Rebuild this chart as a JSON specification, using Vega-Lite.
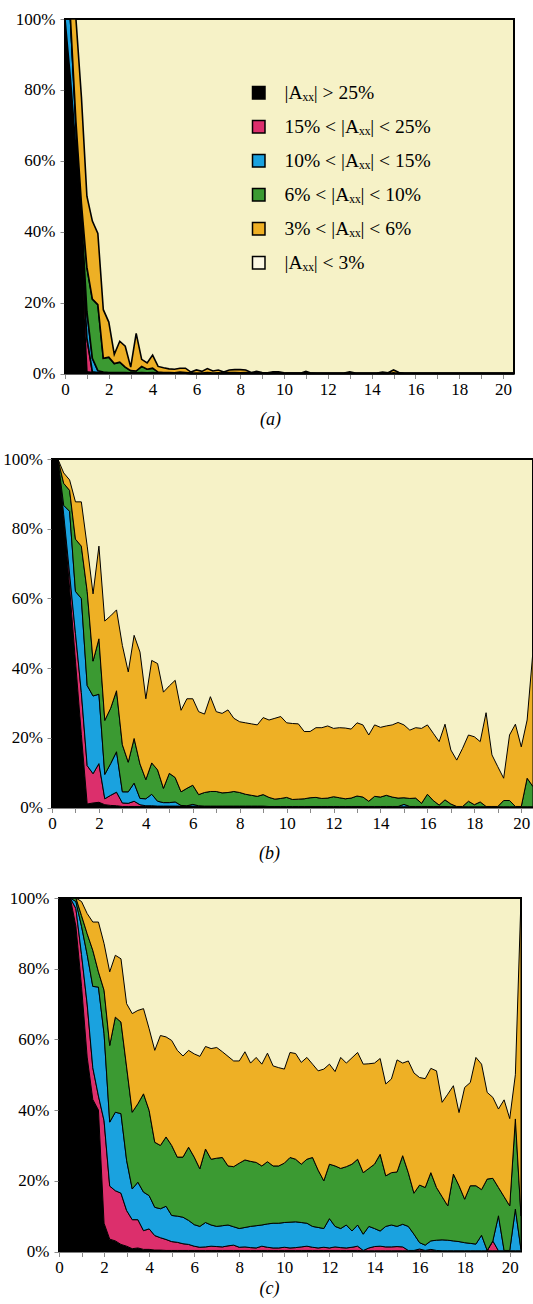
{
"$schema":"https://vega.github.io/schema/vega-lite/v6.json",
"padding":0,
"autosize":{"type":"pad"},
"background":"white",
"config":{
"view":{"stroke":"black","strokeWidth":2,"fill":"#f6f2c7"},
"axis":{"domain":false,"grid":false,"tickSize":5,"tickColor":"#8a8a8a","labelFont":"Liberation Serif","labelFontSize":17,"labelColor":"black","titleFont":"Liberation Serif","titleColor":"black","titleFontWeight":"normal"}
},
"datasets":{
"a":[
{"x":0,"p25":100,"p15":100,"p10":100,"p6":100,"p3":100},
{"x":0.25,"p25":83,"p15":83,"p10":100,"p6":100,"p3":100},
{"x":0.5,"p25":57,"p15":63,"p10":70,"p6":71,"p3":100},
{"x":0.75,"p25":30,"p15":38,"p10":45,"p6":48,"p3":78},
{"x":1,"p25":0.5,"p15":10,"p10":17.5,"p6":30,"p3":50},
{"x":1.25,"p25":0.3,"p15":0.5,"p10":4.3,"p6":21,"p3":43},
{"x":1.5,"p25":0.2,"p15":0.3,"p10":0.8,"p6":19.4,"p3":39.5},
{"x":1.75,"p25":0.2,"p15":0.2,"p10":0.4,"p6":4.3,"p3":18},
{"x":2,"p25":0.2,"p15":0.2,"p10":0.3,"p6":4.6,"p3":14.5},
{"x":2.25,"p25":0.2,"p15":0.2,"p10":0.3,"p6":2.8,"p3":5.4},
{"x":2.5,"p25":0.2,"p15":0.2,"p10":0.3,"p6":3.2,"p3":9.1},
{"x":2.75,"p25":0.2,"p15":0.2,"p10":0.3,"p6":1.8,"p3":7.7},
{"x":3,"p25":0.2,"p15":0.2,"p10":0.2,"p6":0.8,"p3":1.8},
{"x":3.25,"p25":0.2,"p15":0.2,"p10":0.2,"p6":0.7,"p3":11.3},
{"x":3.5,"p25":0.2,"p15":0.2,"p10":0.3,"p6":2,"p3":4},
{"x":3.75,"p25":0.2,"p15":0.2,"p10":0.2,"p6":1.2,"p3":3},
{"x":4,"p25":0.2,"p15":0.2,"p10":0.3,"p6":1.5,"p3":5.2},
{"x":4.25,"p25":0.1,"p15":0.1,"p10":0.2,"p6":0.4,"p3":2},
{"x":4.5,"p25":0.1,"p15":0.1,"p10":0.1,"p6":0.3,"p3":1.6},
{"x":4.75,"p25":0.1,"p15":0.1,"p10":0.1,"p6":0.3,"p3":1.3},
{"x":5,"p25":0.1,"p15":0.1,"p10":0.1,"p6":0.2,"p3":1.2},
{"x":5.25,"p25":0.1,"p15":0.1,"p10":0.1,"p6":0.4,"p3":1.5},
{"x":5.5,"p25":0.1,"p15":0.1,"p10":0.1,"p6":0.3,"p3":1.5},
{"x":5.75,"p25":0,"p15":0,"p10":0,"p6":0.1,"p3":0.4},
{"x":6,"p25":0,"p15":0,"p10":0,"p6":0.1,"p3":1},
{"x":6.25,"p25":0,"p15":0,"p10":0,"p6":0.1,"p3":0.6},
{"x":6.5,"p25":0,"p15":0,"p10":0,"p6":0.3,"p3":1.4},
{"x":6.75,"p25":0,"p15":0,"p10":0,"p6":0.1,"p3":0.7},
{"x":7,"p25":0,"p15":0,"p10":0,"p6":0.2,"p3":1},
{"x":7.25,"p25":0,"p15":0,"p10":0,"p6":0.1,"p3":0.4},
{"x":7.5,"p25":0,"p15":0,"p10":0,"p6":0.3,"p3":1},
{"x":7.75,"p25":0,"p15":0,"p10":0,"p6":0.3,"p3":1.1},
{"x":8,"p25":0,"p15":0,"p10":0,"p6":0.2,"p3":1.1},
{"x":8.25,"p25":0,"p15":0,"p10":0,"p6":0.3,"p3":1},
{"x":8.5,"p25":0,"p15":0,"p10":0,"p6":0.1,"p3":0.3},
{"x":8.75,"p25":0,"p15":0,"p10":0,"p6":0.1,"p3":0.6},
{"x":9,"p25":0,"p15":0,"p10":0,"p6":0.1,"p3":0.3},
{"x":9.25,"p25":0,"p15":0,"p10":0,"p6":0,"p3":0.2},
{"x":9.5,"p25":0,"p15":0,"p10":0,"p6":0.1,"p3":0.5},
{"x":9.75,"p25":0,"p15":0,"p10":0,"p6":0.1,"p3":0.5},
{"x":10,"p25":0,"p15":0,"p10":0,"p6":0,"p3":0.2},
{"x":10.25,"p25":0,"p15":0,"p10":0,"p6":0,"p3":0.1},
{"x":10.5,"p25":0,"p15":0,"p10":0,"p6":0,"p3":0.1},
{"x":10.75,"p25":0,"p15":0,"p10":0,"p6":0,"p3":0.1},
{"x":11,"p25":0,"p15":0,"p10":0,"p6":0.1,"p3":0.6},
{"x":11.25,"p25":0,"p15":0,"p10":0,"p6":0,"p3":0.1},
{"x":11.5,"p25":0,"p15":0,"p10":0,"p6":0,"p3":0.05},
{"x":11.75,"p25":0,"p15":0,"p10":0,"p6":0,"p3":0.05},
{"x":12,"p25":0,"p15":0,"p10":0,"p6":0,"p3":0.05},
{"x":12.25,"p25":0,"p15":0,"p10":0,"p6":0,"p3":0.05},
{"x":12.5,"p25":0,"p15":0,"p10":0,"p6":0,"p3":0.05},
{"x":12.75,"p25":0,"p15":0,"p10":0,"p6":0,"p3":0.1},
{"x":13,"p25":0,"p15":0,"p10":0,"p6":0.1,"p3":0.5},
{"x":13.25,"p25":0,"p15":0,"p10":0,"p6":0,"p3":0.1},
{"x":13.5,"p25":0,"p15":0,"p10":0,"p6":0,"p3":0.05},
{"x":13.75,"p25":0,"p15":0,"p10":0,"p6":0,"p3":0.05},
{"x":14,"p25":0,"p15":0,"p10":0,"p6":0,"p3":0.05},
{"x":14.25,"p25":0,"p15":0,"p10":0,"p6":0,"p3":0.1},
{"x":14.5,"p25":0,"p15":0,"p10":0,"p6":0.1,"p3":0.4},
{"x":14.75,"p25":0,"p15":0,"p10":0,"p6":0,"p3":0.2},
{"x":15,"p25":0,"p15":0,"p10":0,"p6":0.2,"p3":1},
{"x":15.25,"p25":0,"p15":0,"p10":0,"p6":0,"p3":0.3},
{"x":15.5,"p25":0,"p15":0,"p10":0,"p6":0,"p3":0.05},
{"x":15.75,"p25":0,"p15":0,"p10":0,"p6":0,"p3":0.05},
{"x":16,"p25":0,"p15":0,"p10":0,"p6":0,"p3":0.05},
{"x":16.25,"p25":0,"p15":0,"p10":0,"p6":0,"p3":0.05},
{"x":16.5,"p25":0,"p15":0,"p10":0,"p6":0,"p3":0.05},
{"x":16.75,"p25":0,"p15":0,"p10":0,"p6":0,"p3":0.05},
{"x":17,"p25":0,"p15":0,"p10":0,"p6":0,"p3":0.05},
{"x":17.25,"p25":0,"p15":0,"p10":0,"p6":0,"p3":0.05},
{"x":17.5,"p25":0,"p15":0,"p10":0,"p6":0,"p3":0.05},
{"x":17.75,"p25":0,"p15":0,"p10":0,"p6":0,"p3":0.05},
{"x":18,"p25":0,"p15":0,"p10":0,"p6":0,"p3":0.05},
{"x":18.25,"p25":0,"p15":0,"p10":0,"p6":0,"p3":0.05},
{"x":18.5,"p25":0,"p15":0,"p10":0,"p6":0,"p3":0.05},
{"x":18.75,"p25":0,"p15":0,"p10":0,"p6":0,"p3":0.05},
{"x":19,"p25":0,"p15":0,"p10":0,"p6":0,"p3":0.05},
{"x":19.25,"p25":0,"p15":0,"p10":0,"p6":0,"p3":0.05},
{"x":19.5,"p25":0,"p15":0,"p10":0,"p6":0,"p3":0.05},
{"x":19.75,"p25":0,"p15":0,"p10":0,"p6":0,"p3":0.05},
{"x":20,"p25":0,"p15":0,"p10":0,"p6":0,"p3":0.05},
{"x":20.25,"p25":0,"p15":0,"p10":0,"p6":0,"p3":0.05},
{"x":20.5,"p25":0,"p15":0,"p10":0,"p6":0,"p3":0.05}
],
"b":[
{"x":0,"p25":100,"p15":100,"p10":100,"p6":100,"p3":100},
{"x":0.25,"p25":100,"p15":100,"p10":100,"p6":100,"p3":100},
{"x":0.5,"p25":83,"p15":84,"p10":86.7,"p6":93,"p3":96},
{"x":0.75,"p25":63,"p15":67,"p10":85,"p6":91,"p3":94},
{"x":1,"p25":42,"p15":50,"p10":62,"p6":77,"p3":87.7},
{"x":1.25,"p25":21,"p15":33,"p10":60,"p6":75,"p3":87.7},
{"x":1.5,"p25":1,"p15":12,"p10":35,"p6":62,"p3":75},
{"x":1.75,"p25":1.3,"p15":9.7,"p10":32,"p6":42,"p3":61.3},
{"x":2,"p25":1.5,"p15":12.6,"p10":32.5,"p6":48.4,"p3":75},
{"x":2.25,"p25":0.8,"p15":2.5,"p10":9.5,"p6":25,"p3":53.5},
{"x":2.5,"p25":0.6,"p15":3.5,"p10":12.6,"p6":28.5,"p3":55},
{"x":2.75,"p25":0.5,"p15":4.4,"p10":16,"p6":33.5,"p3":56.7},
{"x":3,"p25":0.3,"p15":1.3,"p10":4.5,"p6":18,"p3":46.5},
{"x":3.25,"p25":0.3,"p15":1.2,"p10":4.5,"p6":13,"p3":38.9},
{"x":3.5,"p25":0.3,"p15":1.8,"p10":7,"p6":19.8,"p3":49.4},
{"x":3.75,"p25":0.3,"p15":0.8,"p10":2.6,"p6":12.5,"p3":44.6},
{"x":4,"p25":0.3,"p15":0.5,"p10":2.5,"p6":8,"p3":31.2},
{"x":4.25,"p25":0.3,"p15":0.5,"p10":3.8,"p6":12.8,"p3":42.2},
{"x":4.5,"p25":0.3,"p15":0.4,"p10":1.8,"p6":10.8,"p3":41.3},
{"x":4.75,"p25":0.3,"p15":0.4,"p10":1.4,"p6":5.5,"p3":33.1},
{"x":5,"p25":0.3,"p15":0.4,"p10":1.4,"p6":9.8,"p3":34.9},
{"x":5.25,"p25":0.3,"p15":0.4,"p10":1.6,"p6":8.6,"p3":36.5},
{"x":5.5,"p25":0.3,"p15":0.4,"p10":0.6,"p6":4.5,"p3":27.9},
{"x":5.75,"p25":0.3,"p15":0.4,"p10":0.5,"p6":5.5,"p3":31.2},
{"x":6,"p25":0.3,"p15":0.4,"p10":0.9,"p6":6.4,"p3":31.2},
{"x":6.25,"p25":0.3,"p15":0.3,"p10":0.5,"p6":3.7,"p3":27.5},
{"x":6.5,"p25":0.2,"p15":0.3,"p10":0.4,"p6":4.3,"p3":26.8},
{"x":6.75,"p25":0.2,"p15":0.3,"p10":0.4,"p6":4.6,"p3":31.8},
{"x":7,"p25":0.2,"p15":0.3,"p10":0.4,"p6":4.6,"p3":27.5},
{"x":7.25,"p25":0.2,"p15":0.3,"p10":0.4,"p6":4.2,"p3":27},
{"x":7.5,"p25":0.2,"p15":0.3,"p10":0.4,"p6":4.3,"p3":28},
{"x":7.75,"p25":0.2,"p15":0.3,"p10":0.4,"p6":4.6,"p3":25.6},
{"x":8,"p25":0.2,"p15":0.3,"p10":0.4,"p6":4.3,"p3":24.6},
{"x":8.25,"p25":0.2,"p15":0.3,"p10":0.4,"p6":3.8,"p3":24.3},
{"x":8.5,"p25":0.2,"p15":0.3,"p10":0.4,"p6":3.5,"p3":24},
{"x":8.75,"p25":0.2,"p15":0.3,"p10":0.4,"p6":3.2,"p3":23.7},
{"x":9,"p25":0.2,"p15":0.3,"p10":0.4,"p6":3.7,"p3":25.8},
{"x":9.25,"p25":0.2,"p15":0.3,"p10":0.3,"p6":2.9,"p3":25.1},
{"x":9.5,"p25":0.2,"p15":0.3,"p10":0.3,"p6":2.4,"p3":25.6},
{"x":9.75,"p25":0.2,"p15":0.3,"p10":0.3,"p6":2.6,"p3":26.1},
{"x":10,"p25":0.2,"p15":0.2,"p10":0.3,"p6":2.9,"p3":24.3},
{"x":10.25,"p25":0.2,"p15":0.2,"p10":0.3,"p6":2.3,"p3":24.1},
{"x":10.5,"p25":0.2,"p15":0.2,"p10":0.3,"p6":2.4,"p3":24},
{"x":10.75,"p25":0.2,"p15":0.2,"p10":0.3,"p6":2.5,"p3":21.8},
{"x":11,"p25":0.2,"p15":0.2,"p10":0.3,"p6":2.8,"p3":21.8},
{"x":11.25,"p25":0.2,"p15":0.2,"p10":0.3,"p6":2.9,"p3":22.9},
{"x":11.5,"p25":0.2,"p15":0.2,"p10":0.3,"p6":2.6,"p3":22.9},
{"x":11.75,"p25":0.2,"p15":0.2,"p10":0.3,"p6":2.7,"p3":23.4},
{"x":12,"p25":0.2,"p15":0.2,"p10":0.3,"p6":3.1,"p3":22.7},
{"x":12.25,"p25":0.2,"p15":0.2,"p10":0.3,"p6":2.8,"p3":22.9},
{"x":12.5,"p25":0.2,"p15":0.2,"p10":0.3,"p6":2.5,"p3":22.8},
{"x":12.75,"p25":0.2,"p15":0.2,"p10":0.3,"p6":2.7,"p3":22.5},
{"x":13,"p25":0.2,"p15":0.2,"p10":0.3,"p6":3.3,"p3":24.3},
{"x":13.25,"p25":0.2,"p15":0.2,"p10":0.3,"p6":3,"p3":23.7},
{"x":13.5,"p25":0.2,"p15":0.2,"p10":0.3,"p6":1.8,"p3":20.8},
{"x":13.75,"p25":0.2,"p15":0.2,"p10":0.3,"p6":3.2,"p3":23.7},
{"x":14,"p25":0.2,"p15":0.2,"p10":0.3,"p6":3,"p3":23},
{"x":14.25,"p25":0.2,"p15":0.2,"p10":0.3,"p6":3.5,"p3":23.4},
{"x":14.5,"p25":0.2,"p15":0.2,"p10":0.3,"p6":3,"p3":23.7},
{"x":14.75,"p25":0.2,"p15":0.2,"p10":0.3,"p6":2.7,"p3":24.4},
{"x":15,"p25":0.2,"p15":0.2,"p10":0.9,"p6":2.8,"p3":23.7},
{"x":15.25,"p25":0.2,"p15":0.2,"p10":0.3,"p6":2.6,"p3":22.2},
{"x":15.5,"p25":0.2,"p15":0.2,"p10":0.3,"p6":2.7,"p3":22.9},
{"x":15.75,"p25":0.2,"p15":0.2,"p10":0.3,"p6":1.2,"p3":22.7},
{"x":16,"p25":0.2,"p15":0.2,"p10":0.3,"p6":3.8,"p3":23.7},
{"x":16.25,"p25":0.2,"p15":0.2,"p10":0.3,"p6":2,"p3":21.3},
{"x":16.5,"p25":0.2,"p15":0.2,"p10":0.3,"p6":0.7,"p3":18.9},
{"x":16.75,"p25":0.2,"p15":0.2,"p10":0.3,"p6":2.2,"p3":23.9},
{"x":17,"p25":0.2,"p15":0.2,"p10":0.2,"p6":1,"p3":16.5},
{"x":17.25,"p25":0.2,"p15":0.2,"p10":0.2,"p6":0.3,"p3":13.6},
{"x":17.5,"p25":0.2,"p15":0.2,"p10":0.2,"p6":0.3,"p3":17},
{"x":17.75,"p25":0.2,"p15":0.2,"p10":0.2,"p6":1.8,"p3":20.8},
{"x":18,"p25":0.2,"p15":0.2,"p10":0.2,"p6":0.8,"p3":20.3},
{"x":18.25,"p25":0.2,"p15":0.2,"p10":0.2,"p6":1.6,"p3":18.9},
{"x":18.5,"p25":0.2,"p15":0.2,"p10":0.2,"p6":0.3,"p3":27.2},
{"x":18.75,"p25":0.2,"p15":0.2,"p10":0.2,"p6":0.3,"p3":15.1},
{"x":19,"p25":0.2,"p15":0.2,"p10":0.2,"p6":0.3,"p3":11.7},
{"x":19.25,"p25":0.2,"p15":0.2,"p10":0.2,"p6":2,"p3":8.4},
{"x":19.5,"p25":0.2,"p15":0.2,"p10":0.2,"p6":2,"p3":20.8},
{"x":19.75,"p25":0.2,"p15":0.2,"p10":0.2,"p6":0.3,"p3":23.9},
{"x":20,"p25":0.2,"p15":0.2,"p10":0.2,"p6":0.3,"p3":17.4},
{"x":20.25,"p25":0.2,"p15":0.2,"p10":0.2,"p6":8.4,"p3":25.1},
{"x":20.5,"p25":0.2,"p15":0.2,"p10":0.2,"p6":6,"p3":45}
],
"c":[
{"x":0,"p25":100,"p15":100,"p10":100,"p6":100,"p3":100},
{"x":0.25,"p25":100,"p15":100,"p10":100,"p6":100,"p3":100},
{"x":0.5,"p25":100,"p15":100,"p10":100,"p6":100,"p3":100},
{"x":0.75,"p25":92,"p15":97,"p10":99,"p6":100,"p3":100},
{"x":1,"p25":75,"p15":84,"p10":92,"p6":95,"p3":99},
{"x":1.25,"p25":55,"p15":70,"p10":84,"p6":89.9,"p3":95.6},
{"x":1.5,"p25":43,"p15":52,"p10":75,"p6":85.2,"p3":93.2},
{"x":1.75,"p25":40,"p15":44,"p10":74.8,"p6":79.1,"p3":93.2},
{"x":2,"p25":8,"p15":37,"p10":61.6,"p6":73.9,"p3":87.1},
{"x":2.25,"p25":3.5,"p15":18.5,"p10":36.6,"p6":58.3,"p3":79.1},
{"x":2.5,"p25":3,"p15":17.2,"p10":39.4,"p6":66.3,"p3":83.8},
{"x":2.75,"p25":2,"p15":16.5,"p10":39,"p6":64.9,"p3":82.8},
{"x":3,"p25":1.5,"p15":11.6,"p10":25.8,"p6":52.2,"p3":70.1},
{"x":3.25,"p25":0.8,"p15":9,"p10":17.7,"p6":39.4,"p3":67.3},
{"x":3.5,"p25":1,"p15":9,"p10":19.6,"p6":41.8,"p3":68.2},
{"x":3.75,"p25":0.6,"p15":5.9,"p10":16.8,"p6":44.6,"p3":68.7},
{"x":4,"p25":0.6,"p15":6.4,"p10":15.8,"p6":39.9,"p3":63},
{"x":4.25,"p25":0.4,"p15":4.5,"p10":12.5,"p6":30.9,"p3":56.9},
{"x":4.5,"p25":0.4,"p15":3.9,"p10":12.1,"p6":30,"p3":61.1},
{"x":4.75,"p25":0.3,"p15":3.4,"p10":12.8,"p6":32.4,"p3":60.7},
{"x":5,"p25":0.3,"p15":2.8,"p10":10.2,"p6":30,"p3":59.7},
{"x":5.25,"p25":0.3,"p15":2.6,"p10":10,"p6":26.7,"p3":56.9},
{"x":5.5,"p25":0.3,"p15":2.2,"p10":9.7,"p6":26.7,"p3":55.3},
{"x":5.75,"p25":0.3,"p15":2,"p10":8.8,"p6":29.5,"p3":56.9},
{"x":6,"p25":0.3,"p15":1.5,"p10":7.6,"p6":26.7,"p3":55.9},
{"x":6.25,"p25":0.3,"p15":1.2,"p10":7.1,"p6":23.4,"p3":55.2},
{"x":6.5,"p25":0.3,"p15":1.3,"p10":8.2,"p6":29,"p3":58},
{"x":6.75,"p25":0.3,"p15":1.5,"p10":7.5,"p6":26.1,"p3":57.4},
{"x":7,"p25":0.3,"p15":1.4,"p10":7.1,"p6":26.4,"p3":57.7},
{"x":7.25,"p25":0.3,"p15":1.3,"p10":7.3,"p6":26.6,"p3":56.5},
{"x":7.5,"p25":0.3,"p15":1.6,"p10":7.5,"p6":24.2,"p3":55.2},
{"x":7.75,"p25":0.3,"p15":1.8,"p10":7,"p6":24,"p3":53.9},
{"x":8,"p25":0.3,"p15":1.2,"p10":6.5,"p6":25,"p3":53.9},
{"x":8.25,"p25":0.3,"p15":1.3,"p10":6.8,"p6":25.9,"p3":56.5},
{"x":8.5,"p25":0.3,"p15":1.1,"p10":7.1,"p6":25.5,"p3":53.3},
{"x":8.75,"p25":0.3,"p15":1,"p10":7.3,"p6":25.2,"p3":54.9},
{"x":9,"p25":0.3,"p15":1.5,"p10":7.5,"p6":24.2,"p3":53},
{"x":9.25,"p25":0.3,"p15":1.2,"p10":7.8,"p6":25.4,"p3":56.1},
{"x":9.5,"p25":0.3,"p15":1,"p10":8,"p6":24.2,"p3":52.5},
{"x":9.75,"p25":0.3,"p15":1,"p10":8,"p6":24.2,"p3":52},
{"x":10,"p25":0.3,"p15":1.2,"p10":8.2,"p6":25,"p3":51.6},
{"x":10.25,"p25":0.3,"p15":1,"p10":8.3,"p6":26.6,"p3":56.3},
{"x":10.5,"p25":0.3,"p15":1.1,"p10":8.4,"p6":26.1,"p3":56},
{"x":10.75,"p25":0.3,"p15":1.3,"p10":8.2,"p6":24.7,"p3":53.5},
{"x":11,"p25":0.3,"p15":1.5,"p10":8,"p6":26.1,"p3":54.9},
{"x":11.25,"p25":0.3,"p15":1.2,"p10":7.1,"p6":26.6,"p3":53},
{"x":11.5,"p25":0.3,"p15":1,"p10":6.8,"p6":23,"p3":51.1},
{"x":11.75,"p25":0.3,"p15":1.2,"p10":6.5,"p6":20,"p3":51.6},
{"x":12,"p25":0.3,"p15":1,"p10":9.3,"p6":24.7,"p3":53},
{"x":12.25,"p25":0.3,"p15":1.3,"p10":7.1,"p6":24.2,"p3":50.9},
{"x":12.5,"p25":0.3,"p15":1.1,"p10":6.5,"p6":23.5,"p3":54.9},
{"x":12.75,"p25":0.3,"p15":1,"p10":7.5,"p6":24,"p3":53.3},
{"x":13,"p25":0.3,"p15":1.2,"p10":5.8,"p6":24.7,"p3":54.8},
{"x":13.25,"p25":0.3,"p15":1.5,"p10":7.5,"p6":26.1,"p3":56.3},
{"x":13.5,"p25":0.2,"p15":0.3,"p10":4.9,"p6":22.3,"p3":53},
{"x":13.75,"p25":0.2,"p15":1,"p10":7.1,"p6":23.5,"p3":53.1},
{"x":14,"p25":0.2,"p15":1.4,"p10":6.5,"p6":24.7,"p3":53.3},
{"x":14.25,"p25":0.2,"p15":1.5,"p10":5.8,"p6":27.5,"p3":54.6},
{"x":14.5,"p25":0.2,"p15":1.3,"p10":7.1,"p6":21.4,"p3":47.4},
{"x":14.75,"p25":0.2,"p15":1.3,"p10":7.5,"p6":22.3,"p3":48.8},
{"x":15,"p25":0.2,"p15":1.4,"p10":7.1,"p6":22.5,"p3":54.2},
{"x":15.25,"p25":0.2,"p15":1.3,"p10":7.7,"p6":27.1,"p3":53.3},
{"x":15.5,"p25":0.2,"p15":0.3,"p10":7.1,"p6":22.3,"p3":53.9},
{"x":15.75,"p25":0.2,"p15":0.3,"p10":4.9,"p6":16.5,"p3":50.5},
{"x":16,"p25":0.2,"p15":0.7,"p10":2.5,"p6":18.8,"p3":49.2},
{"x":16.25,"p25":0.2,"p15":0.3,"p10":1.8,"p6":18.1,"p3":48.9},
{"x":16.5,"p25":0.2,"p15":0.6,"p10":3,"p6":22.3,"p3":51.8},
{"x":16.75,"p25":0.2,"p15":0.3,"p10":3.2,"p6":18.1,"p3":51.1},
{"x":17,"p25":0.2,"p15":0.2,"p10":3.3,"p6":15.5,"p3":42.2},
{"x":17.25,"p25":0.2,"p15":0.2,"p10":3.2,"p6":12.9,"p3":44.5},
{"x":17.5,"p25":0.2,"p15":0.2,"p10":3,"p6":21.9,"p3":46.9},
{"x":17.75,"p25":0.2,"p15":0.2,"p10":2.8,"p6":18.6,"p3":39.3},
{"x":18,"p25":0.2,"p15":0.2,"p10":2.5,"p6":14.8,"p3":46.4},
{"x":18.25,"p25":0.2,"p15":0.2,"p10":2.3,"p6":18.6,"p3":47.8},
{"x":18.5,"p25":0.2,"p15":0.2,"p10":2.1,"p6":18.6,"p3":54.9},
{"x":18.75,"p25":0.2,"p15":0.2,"p10":4.6,"p6":17.5,"p3":53},
{"x":19,"p25":0.2,"p15":0.2,"p10":0.3,"p6":20.5,"p3":45},
{"x":19.25,"p25":0.2,"p15":3,"p10":3,"p6":20.7,"p3":43.6},
{"x":19.5,"p25":0.2,"p15":0.2,"p10":10.1,"p6":18.1,"p3":40.3},
{"x":19.75,"p25":0.2,"p15":0.2,"p10":0.3,"p6":15.5,"p3":42.9},
{"x":20,"p25":0.2,"p15":0.2,"p10":0.3,"p6":12.9,"p3":37.6},
{"x":20.25,"p25":0.2,"p15":0.2,"p10":12,"p6":37.5,"p3":50},
{"x":20.5,"p25":0.2,"p15":0.2,"p10":0.5,"p6":10,"p3":100}
],
"blank":[{}]
},
"spacing":0,
"resolve":{"scale":{"color":"independent"},"legend":{"color":"independent"}},
"vconcat":[
{"spacing":0,"resolve":{"scale":{"color":"independent"},"legend":{"color":"independent"}},
"hconcat":[
{"width":13,"height":1,"view":{"stroke":null,"fill":null},"data":{"name":"blank"},"mark":{"type":"point","size":0,"opacity":0},"encoding":{}},
{
"width":449,"height":354.5,
"data":{"name":"a"},
"encoding":{"x":{"field":"x","type":"quantitative","scale":{"domain":[0,20.5],"nice":false,"zero":false},
"axis":{"values":[0,1,2,3,4,5,6,7,8,9,10,11,12,13,14,15,16,17,18,19,20],"labelExpr":"datum.value % 2 === 0 ? datum.label : ''","labelOverlap":false,"labelFlush":false,"labelPadding":3,"labelFont":"Liberation Serif","labelFontSize":17,"title":"(a)","titleFont":"Liberation Serif","titleFontSize":18,"titleFontStyle":"italic","titleX":205,"titleY":46,"titleAlign":"center","titleBaseline":"middle","titleAngle":0}}},
"layer":[
{"mark":{"type":"area","stroke":"black","strokeWidth":1.6,"opacity":1},"encoding":{"y":{"field":"p25","type":"quantitative","stack":null,"scale":{"domain":[0,100],"nice":false},"axis":{"values":[0,20,40,60,80,100],"labelExpr":"datum.value + '%'","labelPadding":5,"labelFont":"Liberation Serif","labelFontSize":17,"title":" ","titleFontSize":1,"titleX":-51,"titleY":-17.3,"titleAngle":0,"titleAlign":"left","titleBaseline":"top","titleColor":"#ffffff"}},"y2":{"datum":0},
"color":{"datum":"|Aₓₓ| > 25%","type":"nominal","scale":{"domain":["|Aₓₓ| > 25%","15% < |Aₓₓ| < 25%","10% < |Aₓₓ| < 15%","6% < |Aₓₓ| < 10%","3% < |Aₓₓ| < 6%","|Aₓₓ| < 3%"],"range":["#000000","#dc2f6c","#1aa2df","#3b9a32","#eeb025","#fbf8e4"]},
"legend":{"orient":"none","legendX":184,"legendY":64,"title":null,"symbolType":"square","symbolSize":156,"symbolStrokeColor":"black","symbolStrokeWidth":1.5,"symbolOpacity":1,"labelFont":"Liberation Serif","labelFontSize":19.5,"labelColor":"black","labelOffset":16,"rowPadding":13,"padding":0,"labelLimit":400}}}},
{"mark":{"type":"area","stroke":"black","strokeWidth":1.6,"opacity":1},"encoding":{"y":{"field":"p15","type":"quantitative","stack":null,"axis":{"values":[0,20,40,60,80,100],"labelExpr":"datum.value + '%'","labelPadding":5,"labelFont":"Liberation Serif","labelFontSize":17,"title":" ","titleFontSize":1,"titleX":-51,"titleY":-17.3,"titleAngle":0,"titleAlign":"left","titleBaseline":"top","titleColor":"#ffffff"}},"y2":{"field":"p25"},
"color":{"datum":"15% < |Aₓₓ| < 25%","type":"nominal","scale":{"domain":["|Aₓₓ| > 25%","15% < |Aₓₓ| < 25%","10% < |Aₓₓ| < 15%","6% < |Aₓₓ| < 10%","3% < |Aₓₓ| < 6%","|Aₓₓ| < 3%"],"range":["#000000","#dc2f6c","#1aa2df","#3b9a32","#eeb025","#fbf8e4"]}}}},
{"mark":{"type":"area","stroke":"black","strokeWidth":1.6,"opacity":1},"encoding":{"y":{"field":"p10","type":"quantitative","stack":null,"axis":{"values":[0,20,40,60,80,100],"labelExpr":"datum.value + '%'","labelPadding":5,"labelFont":"Liberation Serif","labelFontSize":17,"title":" ","titleFontSize":1,"titleX":-51,"titleY":-17.3,"titleAngle":0,"titleAlign":"left","titleBaseline":"top","titleColor":"#ffffff"}},"y2":{"field":"p15"},
"color":{"datum":"10% < |Aₓₓ| < 15%","type":"nominal","scale":{"domain":["|Aₓₓ| > 25%","15% < |Aₓₓ| < 25%","10% < |Aₓₓ| < 15%","6% < |Aₓₓ| < 10%","3% < |Aₓₓ| < 6%","|Aₓₓ| < 3%"],"range":["#000000","#dc2f6c","#1aa2df","#3b9a32","#eeb025","#fbf8e4"]}}}},
{"mark":{"type":"area","stroke":"black","strokeWidth":1.6,"opacity":1},"encoding":{"y":{"field":"p6","type":"quantitative","stack":null,"axis":{"values":[0,20,40,60,80,100],"labelExpr":"datum.value + '%'","labelPadding":5,"labelFont":"Liberation Serif","labelFontSize":17,"title":" ","titleFontSize":1,"titleX":-51,"titleY":-17.3,"titleAngle":0,"titleAlign":"left","titleBaseline":"top","titleColor":"#ffffff"}},"y2":{"field":"p10"},
"color":{"datum":"6% < |Aₓₓ| < 10%","type":"nominal","scale":{"domain":["|Aₓₓ| > 25%","15% < |Aₓₓ| < 25%","10% < |Aₓₓ| < 15%","6% < |Aₓₓ| < 10%","3% < |Aₓₓ| < 6%","|Aₓₓ| < 3%"],"range":["#000000","#dc2f6c","#1aa2df","#3b9a32","#eeb025","#fbf8e4"]}}}},
{"mark":{"type":"area","stroke":"black","strokeWidth":1.6,"opacity":1},"encoding":{"y":{"field":"p3","type":"quantitative","stack":null,"axis":{"values":[0,20,40,60,80,100],"labelExpr":"datum.value + '%'","labelPadding":5,"labelFont":"Liberation Serif","labelFontSize":17,"title":" ","titleFontSize":1,"titleX":-51,"titleY":-17.3,"titleAngle":0,"titleAlign":"left","titleBaseline":"top","titleColor":"#ffffff"}},"y2":{"field":"p6"},
"color":{"datum":"3% < |Aₓₓ| < 6%","type":"nominal","scale":{"domain":["|Aₓₓ| > 25%","15% < |Aₓₓ| < 25%","10% < |Aₓₓ| < 15%","6% < |Aₓₓ| < 10%","3% < |Aₓₓ| < 6%","|Aₓₓ| < 3%"],"range":["#000000","#dc2f6c","#1aa2df","#3b9a32","#eeb025","#fbf8e4"]}}}}
]
}
]},
{"spacing":0,"resolve":{"scale":{"color":"independent"},"legend":{"color":"independent"}},
"hconcat":[
{"width":1,"height":1,"view":{"stroke":null,"fill":null},"data":{"name":"blank"},"mark":{"type":"point","size":0,"opacity":0},"encoding":{}},
{
"width":481,"height":348.5,
"data":{"name":"b"},
"encoding":{"x":{"field":"x","type":"quantitative","scale":{"domain":[0,20.5],"nice":false,"zero":false},
"axis":{"values":[0,1,2,3,4,5,6,7,8,9,10,11,12,13,14,15,16,17,18,19,20],"labelExpr":"datum.value % 2 === 0 ? datum.label : ''","labelOverlap":false,"labelFlush":false,"labelPadding":3,"labelFont":"Liberation Serif","labelFontSize":17,"title":"(b)","titleFont":"Liberation Serif","titleFontSize":18,"titleFontStyle":"italic","titleX":217,"titleY":46,"titleAlign":"center","titleBaseline":"middle","titleAngle":0}}},
"layer":[
{"mark":{"type":"area","stroke":"black","strokeWidth":1,"opacity":1},"encoding":{"y":{"field":"p25","type":"quantitative","stack":null,"scale":{"domain":[0,100],"nice":false},"axis":{"values":[0,20,40,60,80,100],"labelExpr":"datum.value + '%'","labelPadding":4.5,"labelFont":"Liberation Serif","labelFontSize":17,"title":" ","titleFontSize":1,"titleX":-50,"titleY":-27.5,"titleAngle":0,"titleAlign":"left","titleBaseline":"top","titleColor":"#ffffff"}},"y2":{"datum":0},
"color":{"datum":"|Aₓₓ| > 25%","type":"nominal","legend":null,"scale":{"domain":["|Aₓₓ| > 25%","15% < |Aₓₓ| < 25%","10% < |Aₓₓ| < 15%","6% < |Aₓₓ| < 10%","3% < |Aₓₓ| < 6%","|Aₓₓ| < 3%"],"range":["#000000","#dc2f6c","#1aa2df","#3b9a32","#eeb025","#fbf8e4"]}}}},
{"mark":{"type":"area","stroke":"black","strokeWidth":1,"opacity":1},"encoding":{"y":{"field":"p15","type":"quantitative","stack":null,"axis":{"values":[0,20,40,60,80,100],"labelExpr":"datum.value + '%'","labelPadding":4.5,"labelFont":"Liberation Serif","labelFontSize":17,"title":" ","titleFontSize":1,"titleX":-50,"titleY":-27.5,"titleAngle":0,"titleAlign":"left","titleBaseline":"top","titleColor":"#ffffff"}},"y2":{"field":"p25"},
"color":{"datum":"15% < |Aₓₓ| < 25%","type":"nominal","legend":null,"scale":{"domain":["|Aₓₓ| > 25%","15% < |Aₓₓ| < 25%","10% < |Aₓₓ| < 15%","6% < |Aₓₓ| < 10%","3% < |Aₓₓ| < 6%","|Aₓₓ| < 3%"],"range":["#000000","#dc2f6c","#1aa2df","#3b9a32","#eeb025","#fbf8e4"]}}}},
{"mark":{"type":"area","stroke":"black","strokeWidth":1,"opacity":1},"encoding":{"y":{"field":"p10","type":"quantitative","stack":null,"axis":{"values":[0,20,40,60,80,100],"labelExpr":"datum.value + '%'","labelPadding":4.5,"labelFont":"Liberation Serif","labelFontSize":17,"title":" ","titleFontSize":1,"titleX":-50,"titleY":-27.5,"titleAngle":0,"titleAlign":"left","titleBaseline":"top","titleColor":"#ffffff"}},"y2":{"field":"p15"},
"color":{"datum":"10% < |Aₓₓ| < 15%","type":"nominal","legend":null,"scale":{"domain":["|Aₓₓ| > 25%","15% < |Aₓₓ| < 25%","10% < |Aₓₓ| < 15%","6% < |Aₓₓ| < 10%","3% < |Aₓₓ| < 6%","|Aₓₓ| < 3%"],"range":["#000000","#dc2f6c","#1aa2df","#3b9a32","#eeb025","#fbf8e4"]}}}},
{"mark":{"type":"area","stroke":"black","strokeWidth":1,"opacity":1},"encoding":{"y":{"field":"p6","type":"quantitative","stack":null,"axis":{"values":[0,20,40,60,80,100],"labelExpr":"datum.value + '%'","labelPadding":4.5,"labelFont":"Liberation Serif","labelFontSize":17,"title":" ","titleFontSize":1,"titleX":-50,"titleY":-27.5,"titleAngle":0,"titleAlign":"left","titleBaseline":"top","titleColor":"#ffffff"}},"y2":{"field":"p10"},
"color":{"datum":"6% < |Aₓₓ| < 10%","type":"nominal","legend":null,"scale":{"domain":["|Aₓₓ| > 25%","15% < |Aₓₓ| < 25%","10% < |Aₓₓ| < 15%","6% < |Aₓₓ| < 10%","3% < |Aₓₓ| < 6%","|Aₓₓ| < 3%"],"range":["#000000","#dc2f6c","#1aa2df","#3b9a32","#eeb025","#fbf8e4"]}}}},
{"mark":{"type":"area","stroke":"black","strokeWidth":1,"opacity":1},"encoding":{"y":{"field":"p3","type":"quantitative","stack":null,"axis":{"values":[0,20,40,60,80,100],"labelExpr":"datum.value + '%'","labelPadding":4.5,"labelFont":"Liberation Serif","labelFontSize":17,"title":" ","titleFontSize":1,"titleX":-50,"titleY":-27.5,"titleAngle":0,"titleAlign":"left","titleBaseline":"top","titleColor":"#ffffff"}},"y2":{"field":"p6"},
"color":{"datum":"3% < |Aₓₓ| < 6%","type":"nominal","legend":null,"scale":{"domain":["|Aₓₓ| > 25%","15% < |Aₓₓ| < 25%","10% < |Aₓₓ| < 15%","6% < |Aₓₓ| < 10%","3% < |Aₓₓ| < 6%","|Aₓₓ| < 3%"],"range":["#000000","#dc2f6c","#1aa2df","#3b9a32","#eeb025","#fbf8e4"]}}}}
]
}
]},
{"spacing":0,"resolve":{"scale":{"color":"independent"},"legend":{"color":"independent"}},
"hconcat":[
{"width":7,"height":1,"view":{"stroke":null,"fill":null},"data":{"name":"blank"},"mark":{"type":"point","size":0,"opacity":0},"encoding":{}},
{
"width":462,"height":353.5,
"data":{"name":"c"},
"encoding":{"x":{"field":"x","type":"quantitative","scale":{"domain":[0,20.5],"nice":false,"zero":false},
"axis":{"values":[0,1,2,3,4,5,6,7,8,9,10,11,12,13,14,15,16,17,18,19,20],"labelExpr":"datum.value % 2 === 0 ? datum.label : ''","labelOverlap":false,"labelFlush":false,"labelPadding":3,"labelFont":"Liberation Serif","labelFontSize":17,"title":"(c)","titleFont":"Liberation Serif","titleFontSize":18,"titleFontStyle":"italic","titleX":210,"titleY":37,"titleAlign":"center","titleBaseline":"middle","titleAngle":0}}},
"layer":[
{"mark":{"type":"area","stroke":"black","strokeWidth":1,"opacity":1},"encoding":{"y":{"field":"p25","type":"quantitative","stack":null,"scale":{"domain":[0,100],"nice":false},"axis":{"values":[0,20,40,60,80,100],"labelExpr":"datum.value + '%'","labelPadding":5,"labelFont":"Liberation Serif","labelFontSize":17,"title":" ","titleFontSize":1,"titleX":-51,"titleY":-32.5,"titleAngle":0,"titleAlign":"left","titleBaseline":"top","titleColor":"#ffffff"}},"y2":{"datum":0},
"color":{"datum":"|Aₓₓ| > 25%","type":"nominal","legend":null,"scale":{"domain":["|Aₓₓ| > 25%","15% < |Aₓₓ| < 25%","10% < |Aₓₓ| < 15%","6% < |Aₓₓ| < 10%","3% < |Aₓₓ| < 6%","|Aₓₓ| < 3%"],"range":["#000000","#dc2f6c","#1aa2df","#3b9a32","#eeb025","#fbf8e4"]}}}},
{"mark":{"type":"area","stroke":"black","strokeWidth":1,"opacity":1},"encoding":{"y":{"field":"p15","type":"quantitative","stack":null,"axis":{"values":[0,20,40,60,80,100],"labelExpr":"datum.value + '%'","labelPadding":5,"labelFont":"Liberation Serif","labelFontSize":17,"title":" ","titleFontSize":1,"titleX":-51,"titleY":-32.5,"titleAngle":0,"titleAlign":"left","titleBaseline":"top","titleColor":"#ffffff"}},"y2":{"field":"p25"},
"color":{"datum":"15% < |Aₓₓ| < 25%","type":"nominal","legend":null,"scale":{"domain":["|Aₓₓ| > 25%","15% < |Aₓₓ| < 25%","10% < |Aₓₓ| < 15%","6% < |Aₓₓ| < 10%","3% < |Aₓₓ| < 6%","|Aₓₓ| < 3%"],"range":["#000000","#dc2f6c","#1aa2df","#3b9a32","#eeb025","#fbf8e4"]}}}},
{"mark":{"type":"area","stroke":"black","strokeWidth":1,"opacity":1},"encoding":{"y":{"field":"p10","type":"quantitative","stack":null,"axis":{"values":[0,20,40,60,80,100],"labelExpr":"datum.value + '%'","labelPadding":5,"labelFont":"Liberation Serif","labelFontSize":17,"title":" ","titleFontSize":1,"titleX":-51,"titleY":-32.5,"titleAngle":0,"titleAlign":"left","titleBaseline":"top","titleColor":"#ffffff"}},"y2":{"field":"p15"},
"color":{"datum":"10% < |Aₓₓ| < 15%","type":"nominal","legend":null,"scale":{"domain":["|Aₓₓ| > 25%","15% < |Aₓₓ| < 25%","10% < |Aₓₓ| < 15%","6% < |Aₓₓ| < 10%","3% < |Aₓₓ| < 6%","|Aₓₓ| < 3%"],"range":["#000000","#dc2f6c","#1aa2df","#3b9a32","#eeb025","#fbf8e4"]}}}},
{"mark":{"type":"area","stroke":"black","strokeWidth":1,"opacity":1},"encoding":{"y":{"field":"p6","type":"quantitative","stack":null,"axis":{"values":[0,20,40,60,80,100],"labelExpr":"datum.value + '%'","labelPadding":5,"labelFont":"Liberation Serif","labelFontSize":17,"title":" ","titleFontSize":1,"titleX":-51,"titleY":-32.5,"titleAngle":0,"titleAlign":"left","titleBaseline":"top","titleColor":"#ffffff"}},"y2":{"field":"p10"},
"color":{"datum":"6% < |Aₓₓ| < 10%","type":"nominal","legend":null,"scale":{"domain":["|Aₓₓ| > 25%","15% < |Aₓₓ| < 25%","10% < |Aₓₓ| < 15%","6% < |Aₓₓ| < 10%","3% < |Aₓₓ| < 6%","|Aₓₓ| < 3%"],"range":["#000000","#dc2f6c","#1aa2df","#3b9a32","#eeb025","#fbf8e4"]}}}},
{"mark":{"type":"area","stroke":"black","strokeWidth":1,"opacity":1},"encoding":{"y":{"field":"p3","type":"quantitative","stack":null,"axis":{"values":[0,20,40,60,80,100],"labelExpr":"datum.value + '%'","labelPadding":5,"labelFont":"Liberation Serif","labelFontSize":17,"title":" ","titleFontSize":1,"titleX":-51,"titleY":-32.5,"titleAngle":0,"titleAlign":"left","titleBaseline":"top","titleColor":"#ffffff"}},"y2":{"field":"p6"},
"color":{"datum":"3% < |Aₓₓ| < 6%","type":"nominal","legend":null,"scale":{"domain":["|Aₓₓ| > 25%","15% < |Aₓₓ| < 25%","10% < |Aₓₓ| < 15%","6% < |Aₓₓ| < 10%","3% < |Aₓₓ| < 6%","|Aₓₓ| < 3%"],"range":["#000000","#dc2f6c","#1aa2df","#3b9a32","#eeb025","#fbf8e4"]}}}}
]
}
]}
]
}
